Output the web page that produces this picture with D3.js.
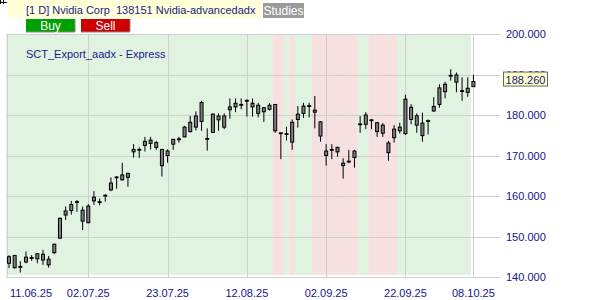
<!DOCTYPE html>
<html>
<head>
<meta charset="utf-8">
<script src="https://cdn.jsdelivr.net/npm/d3@7"></script>
<style>
  body { margin: 0; background: #fff; }
  svg { display: block; font-family: "Liberation Sans", Arial, sans-serif; }
</style>
</head>
<body>
<svg id="chart" width="600" height="300"></svg>
<script>
// DONNEES //
var dates = [
  "11.06.25","12.06.25","13.06.25","16.06.25","17.06.25","18.06.25","20.06.25","23.06.25","24.06.25","25.06.25","26.06.25","27.06.25","30.06.25",
  "01.07.25","02.07.25","03.07.25","07.07.25","08.07.25","09.07.25","10.07.25","11.07.25","14.07.25","15.07.25","16.07.25","17.07.25","18.07.25",
  "21.07.25","22.07.25","23.07.25","24.07.25","25.07.25","28.07.25","29.07.25","30.07.25","31.07.25",
  "01.08.25","04.08.25","05.08.25","06.08.25","07.08.25","08.08.25","11.08.25","12.08.25","13.08.25","14.08.25","15.08.25","18.08.25","19.08.25",
  "20.08.25","21.08.25","22.08.25","25.08.25","26.08.25","27.08.25","28.08.25","29.08.25",
  "02.09.25","03.09.25","04.09.25","05.09.25","08.09.25","09.09.25","10.09.25","11.09.25","12.09.25","15.09.25","16.09.25","17.09.25","18.09.25",
  "19.09.25","22.09.25","23.09.25","24.09.25","25.09.25","26.09.25","29.09.25","30.09.25",
  "01.10.25","02.10.25","03.10.25","06.10.25","07.10.25","08.10.25"
];
var open  = [145.0,142.3,142.6,143.7,144.6,144.5,144.2,144.4,146.0,149.6,155.3,156.4,158.6,156.5,153.4,158.8,158.4,160.0,161.5,164.5,164.0,165.6,170.9,171.5,172.5,173.0,173.2,171.5,170.0,172.8,174.1,174.6,175.9,177.0,178.4,174.2,175.7,179.75,177.0,181.3,182.0,182.6,183.6,182.0,182.4,180.8,181.4,182.6,175.6,175.4,178.2,178.9,180.4,182.1,181.2,178.3,171.1,171.3,170.9,168.1,168.4,169.5,177.6,177.7,178.6,178.1,175.5,173.1,174.4,176.1,175.4,181.9,177.5,178.0,178.4,181.0,182.6,187.6,189.6,189.9,186.0,185.6,187.0];
var high  = [145.4,145.5,143.9,146.3,145.4,145.8,146.7,145.2,148.2,154.7,157.4,158.8,159.0,157.4,158.0,161.2,159.4,160.4,164.6,164.9,168.2,165.7,172.8,172.0,174.6,174.6,173.6,171.5,171.5,174.1,174.6,177.3,179.75,180.9,183.5,176.7,180.4,180.4,180.4,184.1,184.1,184.1,183.9,184.1,183.0,182.0,182.9,182.6,175.6,177.1,178.9,182.2,183.0,183.0,184.7,178.5,172.8,172.8,172.2,169.3,171.4,171.4,179.75,180.7,179.0,178.3,178.0,173.6,177.5,178.1,185.0,182.7,180.4,180.6,178.9,184.4,187.6,188.2,191.3,190.5,189.3,189.3,189.9];
var low   = [142.2,142.1,141.1,143.4,144.0,143.4,143.0,142.3,145.7,149.4,154.1,155.4,156.1,151.6,153.3,157.8,157.7,158.6,161.2,161.8,163.8,162.3,169.5,169.4,171.0,171.5,171.4,164.8,168.2,171.4,173.2,174.5,175.7,176.2,176.1,171.2,175.6,176.1,176.5,179.1,180.7,181.4,179.6,179.6,179.4,178.3,181.1,175.6,169.1,173.7,171.4,176.9,179.3,179.4,176.7,173.4,167.5,169.1,169.7,164.3,168.1,167.0,175.6,176.5,176.5,174.6,174.6,168.7,173.2,175.4,175.1,177.7,175.6,173.4,175.2,180.8,181.8,184.1,188.5,185.6,183.5,184.5,187.0];
var close = [143.4,145.3,142.4,144.9,144.8,145.75,145.6,143.0,148.1,154.5,156.3,157.9,158.4,153.8,157.5,159.7,158.6,160.2,163.2,164.7,165.2,164.6,171.5,171.3,173.5,173.8,172.0,167.5,171.1,174.0,173.9,177.0,178.2,179.75,183.1,174.0,180.2,178.8,179.75,182.0,182.9,182.4,183.4,182.9,180.4,181.8,182.4,176.1,175.4,175.2,173.3,180.2,182.2,182.3,180.7,174.8,170.0,171.5,172.0,167.5,168.6,171.1,177.8,180.0,178.8,175.9,177.5,170.7,176.5,177.0,183.9,178.9,179.8,174.9,178.6,182.1,186.7,185.75,189.8,188.1,185.8,186.6,188.26];
// signal du systeme : L = long (vert), S = short (rouge), "" = aucun
var signal = ["L","L","L","L","L","L","L","L","L","L","L","L","L","L","L","L","L","L","L","L","L","L","L","L","L","L","L","L","L","L","L","L","L","L","L","L","L","L","L","L","L","L","L","L","L","L","L",
  "S","S","L","S","L","L","L","S","S","S","S","S","S","S","S","L","L","S","S","S","S","S",
  "L","L","L","L","L","L","L","L","L","L","L","L","L",""];
var tickDates = ["11.06.25","02.07.25","23.07.25","12.08.25","02.09.25","22.09.25","08.10.25"];
var priceTicks = [140,150,160,170,180,190,200];

var svg = d3.select("#chart");

var x = d3.scalePoint().domain(dates).range([9, 473.4]);
var step = x.step();
var y = d3.scaleLinear().domain([140, 200]).range([277, 34]);

// EN-TETE //
svg.append("rect").attr("x", 7).attr("y", 0).attr("width", 255).attr("height", 18).attr("fill", "#ffffd8");
svg.append("text").attr("x", 26).attr("y", 14).attr("fill", "#1a1a8a").attr("font-size", "11px").text("[1 D] Nvidia Corp");
svg.append("text").attr("x", 116).attr("y", 14).attr("fill", "#1a1a8a").attr("font-size", "11px").text("138151 Nvidia-advancedadx");
svg.append("path").attr("d", "M0.5,0V4M0.5,2.5H7M3.5,0V4").attr("stroke", "#000").attr("fill", "none");

svg.append("rect").attr("x", 263).attr("y", 3).attr("width", 41).attr("height", 15).attr("fill", "#9a9a9a");
svg.append("text").attr("x", 283.5).attr("y", 15).attr("fill", "#fff").attr("font-size", "12px")
  .style("text-anchor", "middle").text("Studies");

var buttons = [{t: "Buy", x: 26, c: "#00a000"}, {t: "Sell", x: 81, c: "#cc0000"}];
buttons.forEach(function(b) {
  svg.append("rect").attr("x", b.x).attr("y", 19).attr("width", 49).attr("height", 13).attr("fill", b.c);
  svg.append("path").attr("d", "M" + (b.x + 49) + ",19V32H" + b.x).attr("stroke", "#888").attr("fill", "none");
  svg.append("text").attr("x", b.x + 24.5).attr("y", 30).attr("fill", "#fff").attr("font-size", "12px")
    .style("text-anchor", "middle").text(b.t);
});

// FOND SIGNAL //
svg.append("g").selectAll("rect")
  .data(dates.filter(function(d, i) { return signal[i] !== ""; }))
  .enter().append("rect")
    .attr("x", function(d) { return x(d) - step / 2; })
    .attr("y", y(200))
    .attr("width", step + 0.3)
    .attr("height", y(140) - y(200) - 2)
    .attr("fill", function(d) { return signal[dates.indexOf(d)] === "L" ? "#e0f2e0" : "#f6e0e0"; });

// GRILLE //
var grid = svg.append("g").attr("stroke", "#cfcfcf").attr("stroke-width", 1);
grid.selectAll("line.h").data(priceTicks).enter().append("line")
  .attr("x1", 6).attr("x2", 500)
  .attr("y1", function(d) { return Math.round(y(d)) + 0.5; })
  .attr("y2", function(d) { return Math.round(y(d)) + 0.5; });
grid.selectAll("line.v").data(tickDates.slice(1)).enter().append("line")
  .attr("x1", function(d) { return Math.round(x(d)) + 0.5; })
  .attr("x2", function(d) { return Math.round(x(d)) + 0.5; })
  .attr("y1", y(200)).attr("y2", y(140));
grid.append("line").attr("x1", 7.5).attr("x2", 7.5).attr("y1", y(200)).attr("y2", y(140));

// AXE PRIX //
svg.append("g").selectAll("text").data(priceTicks).enter().append("text")
  .attr("x", 506).attr("y", function(d) { return y(d) + 4; })
  .attr("fill", "#14148a").attr("font-size", "11px")
  .text(function(d) { return d3.format(".3f")(d); });

// AXE DATES //
svg.append("g").selectAll("text").data(tickDates).enter().append("text")
  .attr("x", function(d, i) { return i === 0 ? x(d) + 1 : x(d); })
  .attr("y", 297)
  .attr("fill", "#14148a").attr("font-size", "11px")
  .style("text-anchor", function(d, i) { return i === 0 ? "start" : "middle"; })
  .text(function(d) { return d; });

// BOUGIES //
var candles = svg.append("g").selectAll("g").data(dates).enter().append("g");
candles.append("line")
  .attr("x1", function(d) { return x(d); }).attr("x2", function(d) { return x(d); })
  .attr("y1", function(d, i) { return y(high[i]); })
  .attr("y2", function(d, i) { return y(low[i]); })
  .attr("stroke", "#000").attr("stroke-width", 1);
candles.append("rect")
  .attr("x", function(d) { return x(d) - 1.5; })
  .attr("y", function(d, i) { return y(Math.max(open[i], close[i])); })
  .attr("width", 3)
  .attr("height", function(d, i) { return Math.max(Math.abs(y(open[i]) - y(close[i])), 0.6); })
  .attr("fill", "#808080").attr("stroke", "#000").attr("stroke-width", 1);

// LIBELLE ETUDE //
svg.append("text").attr("x", 26).attr("y", 58).attr("fill", "#1a1a8a").attr("font-size", "11px")
  .text("SCT_Export_aadx - Express");

// DERNIER COURS //
var last = close[close.length - 1];
svg.append("rect").attr("x", 503.5).attr("y", y(last) - 9.5).attr("width", 44).attr("height", 14)
  .attr("fill", "#ffffc8").attr("stroke", "#666");
svg.append("text").attr("x", 525.5).attr("y", y(last) + 2).attr("fill", "#14148a").attr("font-size", "11px")
  .style("text-anchor", "middle").text(d3.format(".3f")(last));
</script>
</body>
</html>
